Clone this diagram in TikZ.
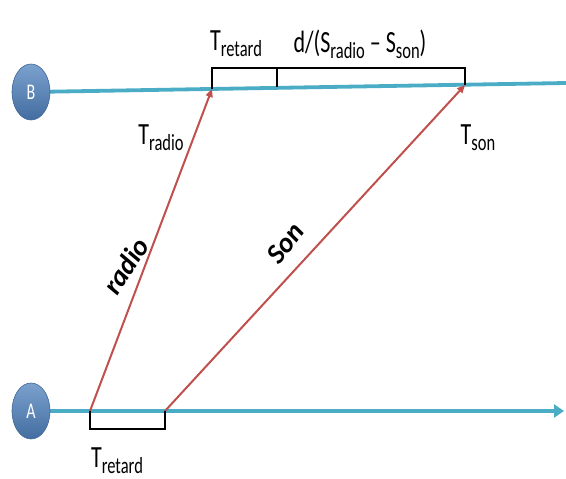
\documentclass[tikz,border=0pt]{standalone}
\usepackage{fontspec}
\setmainfont{Carlito}
\usepackage{graphicx}
\usetikzlibrary{arrows.meta,positioning,shapes.geometric}
\definecolor{lineblue}{RGB}{75,172,198}
\definecolor{sigred}{RGB}{192,80,77}
\definecolor{stationblue}{RGB}{79,129,189}
\newcommand\tall[1]{\scalebox{1}[1.4]{#1}}
\newcommand\lowsub[1]{\raisebox{-0.2em}{\fontsize{16.5}{16.5}\selectfont #1}}

\begin{document}
\begin{tikzpicture}[x=1pt,y=-1pt,
  station/.style={ellipse,minimum width=38pt,minimum height=56pt,inner sep=0pt,
    top color=stationblue!75!white,bottom color=stationblue!85!black,draw=stationblue!80!black,
    line width=0.6pt,text=white,font=\fontsize{16}{16}\selectfont},
  timeline/.style={lineblue,line width=3.8pt},
  signal/.style={sigred,line width=2pt,-{Triangle[length=8pt,width=7pt]}},
  bracket/.style={black,line width=2.5pt},
  label/.style={font=\fontsize{22}{22}\selectfont,inner sep=0pt},
  wave/.style={font=\fontsize{28}{28}\selectfont\bfseries\itshape,inner sep=0pt}
]
\useasboundingbox (0,0) rectangle (566,479);
% time axes of the two observers
\coordinate (Bend) at (566,83);
\coordinate (Aend) at (564,411);
\draw[timeline] (31,92) -- (Bend);
\draw[timeline,-{Triangle[length=10pt,width=13pt]}] (31,411) -- (Aend);
\node[station] (B) at (31,92) {\tall{B}};
\node[station] (A) at (31,411) {\tall{A}};
% emission and reception points
\coordinate (radioStart) at (90,411);
\coordinate (sonStart) at (165,411);
\coordinate (radioEnd) at (212,89);
\coordinate (sonEnd) at (465,85);
\draw[signal] (radioStart) -- (radioEnd);
\draw[signal] (sonStart) -- (sonEnd);
% delay brackets
\draw[bracket] (radioEnd) |- (465,68) -- (sonEnd);
\draw[bracket] (277,68) -- (277,87);
\draw[bracket] (radioStart) |- (165,429) -- (sonStart);
% labels
\node[label] (retardB) at (236,44) {\tall{T\lowsub{retard}}};
\node[label] (delay) at (360,44) {\tall{d/(S\lowsub{radio} – S\lowsub{son})}};
\node[label] (tradio) at (161,138) {\tall{T\lowsub{radio}}};
\node[label] (tson) at (478,138) {\tall{T\lowsub{son}}};
\node[label] (retardA) at (117,461) {\tall{T\lowsub{retard}}};
\node[wave,rotate=57] (radio) at (126,266) {radio};
\node[wave,rotate=52] (son) at (285,243) {Son};
\end{tikzpicture}
\end{document}
